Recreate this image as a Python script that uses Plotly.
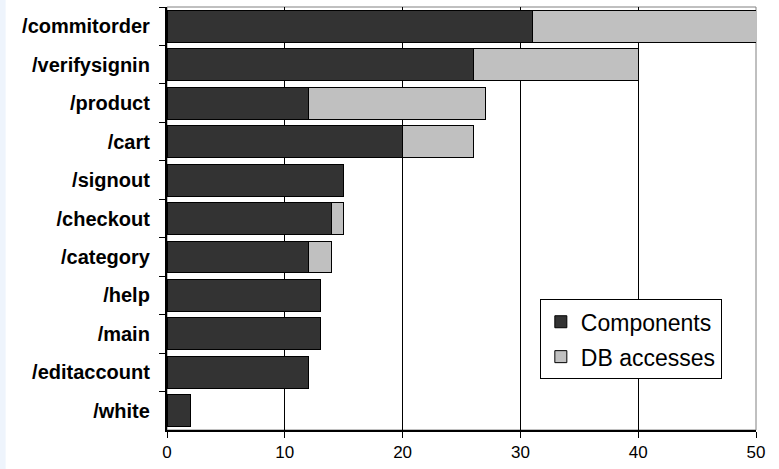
import plotly.graph_objects as go

categories = ["/commitorder", "/verifysignin", "/product", "/cart", "/signout",
              "/checkout", "/category", "/help", "/main", "/editaccount", "/white"]
components = [31, 26, 12, 20, 15, 14, 12, 13, 13, 12, 2]
db_accesses = [19, 14, 15, 6, 0, 1, 2, 0, 0, 0, 0]
x_ticks = [0, 10, 20, 30, 40, 50]

fig = go.Figure()
fig.add_trace(go.Bar(y=categories, x=components, orientation="h", name="Components",
                     marker=dict(color="#333333", line=dict(color="#000000", width=1)),
                     legendgroup="a"))
fig.add_trace(go.Bar(y=categories, x=db_accesses, orientation="h", name="DB accesses",
                     marker=dict(color="#c0c0c0", line=dict(color="#000000", width=1)),
                     legendgroup="b"))

fig.update_layout(
    width=779, height=469,
    barmode="stack", bargap=0.17,
    paper_bgcolor="white", plot_bgcolor="white",
    margin=dict(l=167, r=23, t=7, b=39, autoexpand=False),
    font=dict(family="Arial", color="black"),
    legend=dict(x=0.633, y=0.309, xanchor="left", yanchor="top",
                bgcolor="white", bordercolor="black", borderwidth=1,
                font=dict(size=23), traceorder="grouped", tracegroupgap=2),
    shapes=[
        dict(type="rect", xref="paper", yref="paper", x0=-0.284, x1=-0.274, y0=-0.093, y1=1.02,
             fillcolor="#eef4fc", line=dict(width=0), layer="below"),
        dict(type="rect", xref="paper", yref="paper", x0=0, x1=1, y0=0, y1=1,
             line=dict(color="#808080", width=1), layer="below"),
    ],
)
fig.update_xaxes(range=[0, 50], tickvals=x_ticks, ticks="outside", ticklen=6,
                 tickcolor="black", showgrid=True, gridcolor="black", gridwidth=1,
                 showline=True, linecolor="black", linewidth=2, zeroline=False,
                 tickfont=dict(size=17), automargin=False)
fig.update_yaxes(type="category", autorange="reversed", ticks="outside", ticklen=6, tickcolor="black",
                 tickwidth=1, tickson="boundaries", showline=True, linecolor="black", linewidth=2,
                 showgrid=False, tickfont=dict(size=20, family="Arial", weight="bold"),
                 ticksuffix="\u00a0\u00a0", automargin=False)

fig.write_html("out.html", post_script="document.body.style.margin='0';",
               config={"displayModeBar": False})
